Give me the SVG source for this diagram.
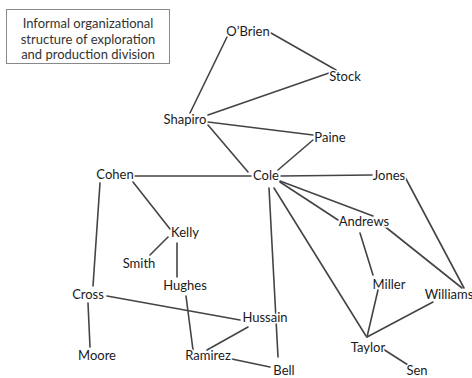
<svg xmlns="http://www.w3.org/2000/svg" width="472" height="378" viewBox="0 0 472 378">
<style>
.e{stroke:#444;stroke-width:1.6;fill:none;stroke-linecap:round}
.n text{font-family:Lato,"Open Sans",sans-serif;font-size:13px;fill:#1a1a1a;text-anchor:middle;stroke:#fff;stroke-width:3;paint-order:stroke;stroke-linejoin:round}
.t{font-family:Lato,"Open Sans",sans-serif;font-size:13px;fill:#333;text-anchor:middle}
</style>
<rect width="472" height="378" fill="#fff"/>
<g id="title">
<rect x="6.5" y="9.5" width="163" height="54" fill="#fff" stroke="#888" stroke-width="1"/>
<text class="t" x="88" y="27.5">Informal organizational</text>
<text class="t" x="88" y="43.5">structure of exploration</text>
<text class="t" x="88" y="59">and production division</text>
</g>
<g id="connectors">
<line class="e" x1="227" y1="37" x2="190" y2="113"/>
<line class="e" x1="271" y1="33" x2="336" y2="70"/>
<line class="e" x1="329" y1="73" x2="208" y2="115"/>
<line class="e" x1="208" y1="122" x2="313" y2="135"/>
<line class="e" x1="208" y1="125" x2="248" y2="172"/>
<line class="e" x1="313" y1="140" x2="278" y2="170"/>
<line class="e" x1="133" y1="176" x2="251" y2="176"/>
<line class="e" x1="281" y1="176" x2="372" y2="175"/>
<line class="e" x1="405" y1="177" x2="464" y2="288"/>
<line class="e" x1="280" y1="182" x2="338" y2="220"/>
<line class="e" x1="280" y1="181" x2="373" y2="216"/>
<line class="e" x1="383" y1="225" x2="462" y2="288"/>
<line class="e" x1="360" y1="233" x2="373" y2="275"/>
<line class="e" x1="378" y1="290" x2="367" y2="337"/>
<line class="e" x1="433" y1="302" x2="367" y2="337"/>
<line class="e" x1="274" y1="188" x2="366" y2="336"/>
<line class="e" x1="269" y1="188" x2="278" y2="357"/>
<line class="e" x1="100" y1="183" x2="93" y2="286"/>
<line class="e" x1="133" y1="182" x2="170" y2="229"/>
<line class="e" x1="168" y1="237" x2="150" y2="255"/>
<line class="e" x1="177" y1="243" x2="177" y2="277"/>
<line class="e" x1="186" y1="296" x2="193" y2="350"/>
<line class="e" x1="88" y1="303" x2="90" y2="347"/>
<line class="e" x1="107" y1="296" x2="240" y2="320"/>
<line class="e" x1="248" y1="327" x2="207" y2="350"/>
<line class="e" x1="227" y1="358" x2="270" y2="367"/>
<line class="e" x1="383" y1="349" x2="408" y2="365"/>
</g>
<g id="obrien" class="n"><text x="248" y="35.5">O’Brien</text></g>
<g id="stock" class="n"><text x="345" y="80.5">Stock</text></g>
<g id="shapiro" class="n"><text x="185" y="123.5">Shapiro</text></g>
<g id="paine" class="n"><text x="330" y="141.5">Paine</text></g>
<g id="cole" class="n"><text x="266" y="179.5">Cole</text></g>
<g id="jones" class="n"><text x="389" y="179.5">Jones</text></g>
<g id="cohen" class="n"><text x="115" y="178.5">Cohen</text></g>
<g id="kelly" class="n"><text x="185" y="236.5">Kelly</text></g>
<g id="smith" class="n"><text x="139" y="267.5">Smith</text></g>
<g id="hughes" class="n"><text x="185" y="289.5">Hughes</text></g>
<g id="cross" class="n"><text x="88" y="298.5">Cross</text></g>
<g id="moore" class="n"><text x="97" y="359.5">Moore</text></g>
<g id="ramirez" class="n"><text x="208" y="359.5">Ramirez</text></g>
<g id="hussain" class="n"><text x="265" y="321.5">Hussain</text></g>
<g id="bell" class="n"><text x="284" y="374.5">Bell</text></g>
<g id="andrews" class="n"><text x="364" y="225.5">Andrews</text></g>
<g id="miller" class="n"><text x="389" y="288.5">Miller</text></g>
<g id="williams" class="n"><text x="449" y="298.5">Williams</text></g>
<g id="taylor" class="n"><text x="368" y="351.5">Taylor</text></g>
<g id="sen" class="n"><text x="417" y="374.5">Sen</text></g>
</svg>
